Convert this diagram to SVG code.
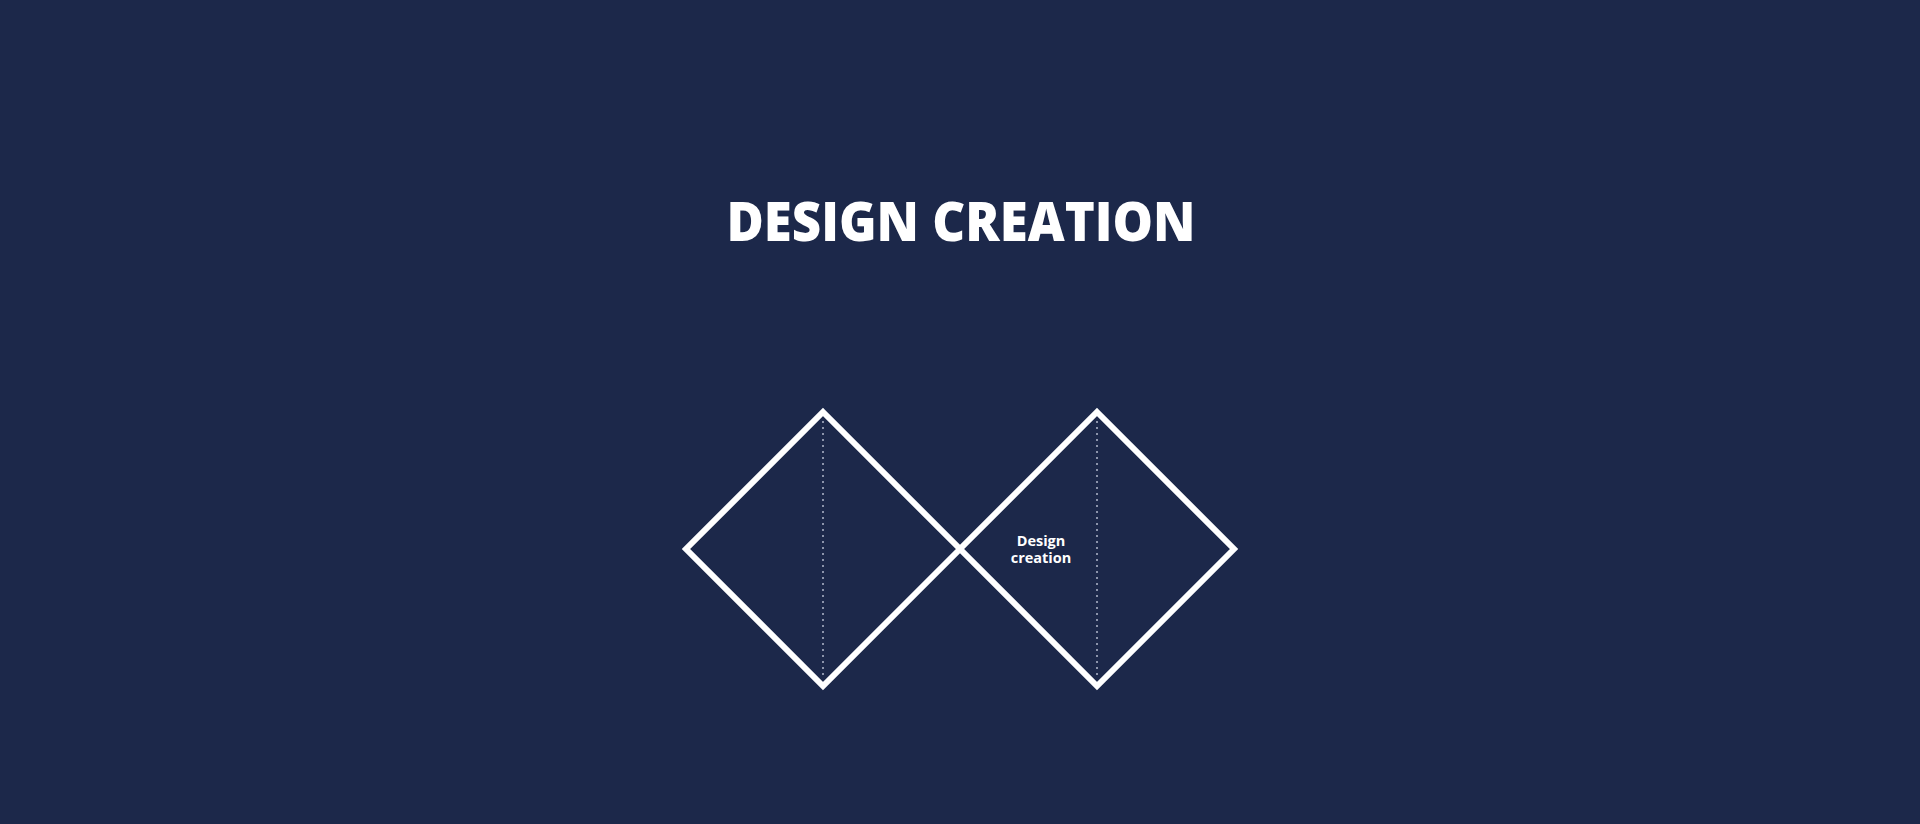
<svg xmlns="http://www.w3.org/2000/svg" width="1920" height="824" viewBox="0 0 1920 824">
<style>
.bg{fill:#1c284a}
.dia{fill:none;stroke:#ffffff;stroke-width:6;stroke-linejoin:miter}
.dot{stroke:#8c94ab;stroke-width:2;stroke-dasharray:2 4;fill:none}
.title{font-family:"Open Sans","Liberation Sans",sans-serif;font-weight:800;font-size:55px;fill:#ffffff}
.lbl{font-family:"Open Sans","Liberation Sans",sans-serif;font-weight:700;font-size:14.5px;fill:#ffffff}
</style>
<rect class="bg" x="0" y="0" width="1920" height="824"/>
<g id="title">
<text class="title" x="961" y="241" text-anchor="middle" textLength="469" lengthAdjust="spacingAndGlyphs">DESIGN CREATION</text>
</g>
<g id="connectors">
<line class="dot" x1="823" y1="421" x2="823" y2="678"/>
<line class="dot" x1="1097" y1="421" x2="1097" y2="678"/>
</g>
<g id="node-left">
<path class="dia" d="M823 412 L960 549 L823 686 L686 549 Z"/>
</g>
<g id="node-right">
<path class="dia" d="M1097 412 L1234 549 L1097 686 L960 549 Z"/>
<text class="lbl" x="1041" y="546" text-anchor="middle">Design</text>
<text class="lbl" x="1041" y="563" text-anchor="middle">creation</text>
</g>
</svg>
